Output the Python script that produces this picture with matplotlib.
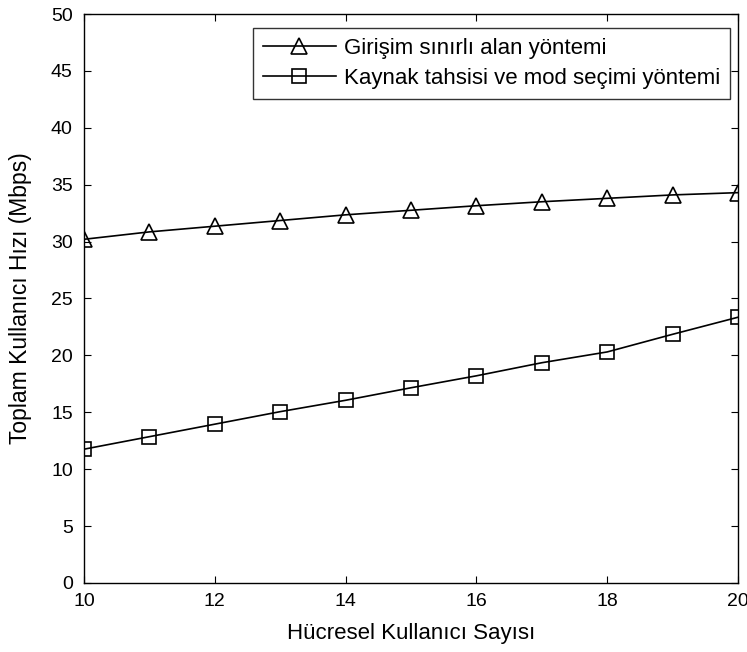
import numpy as np
import matplotlib
matplotlib.use("Agg")
import matplotlib.pyplot as plt

plt.rcParams['font.family'] = ['Liberation Sans', 'DejaVu Sans']

users = [10, 11, 12, 13, 14, 15, 16, 17, 18, 19, 20]
girisim = [30.2, 30.85, 31.35, 31.85, 32.35, 32.75, 33.15, 33.5, 33.8, 34.1, 34.3]
kaynak = [11.75, 12.85, 13.95, 15.05, 16.05, 17.15, 18.2, 19.35, 20.3, 21.85, 23.35]

fig = plt.figure(figsize=(7.47, 6.52), dpi=100)
ax = fig.add_axes([0.1124, 0.106, 0.8756, 0.8725])

ax.plot(users, girisim, color='black', lw=1.2, marker='^', ms=11,
        mfc='none', mec='black', mew=1.2, label='Girişim sınırlı alan yöntemi')
ax.plot(users, kaynak, color='black', lw=1.2, marker='s', ms=10,
        mfc='none', mec='black', mew=1.2, label='Kaynak tahsisi ve mod seçimi yöntemi')

ax.set_xlim(10, 20)
ax.set_ylim(0, 50)
ax.set_xticks(np.arange(10, 21, 2))
ax.set_yticks(np.arange(0, 51, 5))
ax.tick_params(direction='in', top=True, right=True, labelsize=14, length=5)
ax.tick_params(axis='y', pad=8)
ax.tick_params(axis='x', pad=7)
for s in ax.spines.values():
    s.set_linewidth(1.0)

ax.set_xlabel('Hücresel Kullanıcı Sayısı', fontsize=16, labelpad=10)
ax.set_ylabel('Toplam Kullanıcı Hızı (Mbps)', fontsize=16.5, labelpad=14)

leg = ax.legend(loc='upper right', bbox_to_anchor=(0.988, 0.976), fontsize=16,
                frameon=True, fancybox=False, edgecolor='black', borderaxespad=0,
                handlelength=3.3, borderpad=0.45, labelspacing=0.4, handletextpad=0.35)
leg.get_frame().set_linewidth(1.0)

fig.savefig('out.png', dpi=100)
